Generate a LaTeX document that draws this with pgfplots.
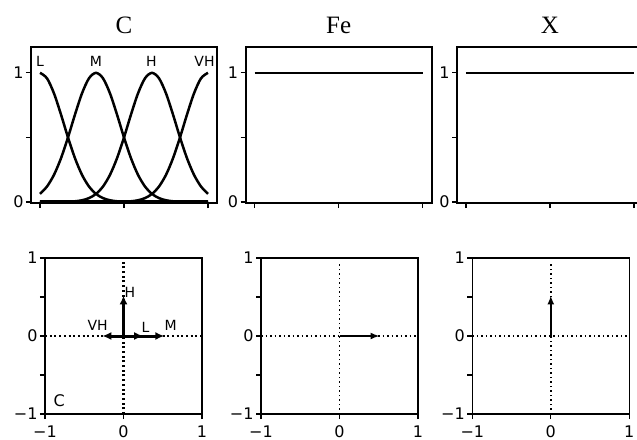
\documentclass[border=0pt]{standalone}
\usepackage{fontspec}
\setmainfont{DejaVu Sans}
\newfontfamily\titlefont{Liberation Serif}
\usepackage{pgfplots}
\usepackage{pgfplotstable}
\pgfplotsset{compat=1.18}
\usetikzlibrary{arrows.meta}

\pgfplotstableread{
x L M H VH
-1 1 0.0625 0 0
-0.9167 0.9576 0.1197 0 0
-0.8333 0.8409 0.2102 0.0002 0
-0.75 0.6771 0.3385 0.0007 0
-0.6667 0.5 0.5 0.0020 0
-0.5833 0.3385 0.6771 0.0053 0
-0.5 0.2102 0.8409 0.0131 0
-0.4167 0.1197 0.9576 0.0299 0
-0.3333 0.0625 1 0.0625 0
-0.25 0.0299 0.9576 0.1197 0
-0.1667 0.0131 0.8409 0.2102 0.0002
-0.0833 0.0053 0.6771 0.3385 0.0007
0 0.0020 0.5 0.5 0.0020
0.0833 0.0007 0.3385 0.6771 0.0053
0.1667 0.0002 0.2102 0.8409 0.0131
0.25 0 0.1197 0.9576 0.0299
0.3333 0 0.0625 1 0.0625
0.4167 0 0.0299 0.9576 0.1197
0.5 0 0.0131 0.8409 0.2102
0.5833 0 0.0053 0.6771 0.3385
0.6667 0 0.0020 0.5 0.5
0.75 0 0.0007 0.3385 0.6771
0.8333 0 0.0002 0.2102 0.8409
0.9167 0 0 0.1197 0.9576
1 0 0 0.0625 1
}\mf

\pgfplotsset{
  base/.style={scale only axis, anchor=north west, clip=false,
    axis line style={line width=1.6pt},
    tick style={line width=1.2pt, black},
    major tick length=5pt, tick align=outside,
    xtick pos=left, ytick pos=left,
    ticklabel style={font=\fontsize{16}{16}\selectfont},
    yticklabel style={xshift=1pt},
    title style={font=\titlefont\fontsize{25}{25}\selectfont, yshift=4pt}},
  top/.style={base, width=186pt, height=156pt,
    xmin=-1.107, xmax=1.107, ymin=-0.008, ymax=1.2,
    xtick={-1,0,1}, xticklabels={},
    ytick={0,0.5,1}, yticklabels={0,,1}},
  bot/.style={base, width=157pt, height=156pt,
    xmin=-1, xmax=1, ymin=-1, ymax=1,
    xtick={-1,0,1}, xticklabels={−1,0,1},
    xticklabel style={yshift=-3pt},
    ytick={-1,-0.5,0,0.5,1}, yticklabels={−1,,0,,1}},
  curve/.style={black, line width=2.5pt, smooth},
  thickdot/.style={black, line width=2pt, dash pattern=on 2pt off 2.7pt},
  thindot/.style={black, line width=1.5pt, dash pattern=on 1.5pt off 3pt},
  bigarrow/.style={black, line width=3pt, -{Latex[length=9pt,width=8pt]}},
  smallarrow/.style={black, line width=2pt, -{Latex[length=9pt,width=7pt]}},
}
\newcommand{\lab}{\fontsize{14}{14}\selectfont}

\begin{document}
\begin{tikzpicture}
\useasboundingbox (0pt,-439pt) rectangle (637pt,0pt);

% ---------- top row ----------
\begin{axis}[top, at={(31pt,-47pt)}, title={C}]
  \addplot[black, line width=4pt] coordinates {(-1,0) (1,0)};
  \addplot[curve] table[x=x,y=L] {\mf};
  \addplot[curve] table[x=x,y=M] {\mf};
  \addplot[curve] table[x=x,y=H] {\mf};
  \addplot[curve] table[x=x,y=VH] {\mf};
  \node[font=\lab] at (axis cs:-1,1.085) {L};
  \node[font=\lab] at (axis cs:-0.333,1.085) {M};
  \node[font=\lab] at (axis cs:0.327,1.085) {H};
  \node[font=\lab] at (axis cs:0.958,1.085) {VH};
\end{axis}

\begin{axis}[top, at={(245.7pt,-47pt)}, title={Fe}]
  \addplot[black, line width=2pt] coordinates {(-1,1) (1,1)};
\end{axis}

\begin{axis}[top, at={(457pt,-47pt)}, title={X}]
  \addplot[black, line width=2pt] coordinates {(-1,1) (1,1)};
\end{axis}

% ---------- bottom row ----------
\begin{axis}[bot, at={(45pt,-258pt)}]
  \addplot[thickdot] coordinates {(-1,0) (1,0)};
  \addplot[thickdot] coordinates {(0,-1) (0,0.95)};
  \addplot[bigarrow] coordinates {(0,0) (0,0.52)};
  \addplot[bigarrow] coordinates {(0,0) (0.52,0)};
  \addplot[bigarrow] coordinates {(0,0) (0.25,0)};
  \addplot[bigarrow] coordinates {(0,0) (-0.27,0)};
  \node[font=\lab] at (axis cs:0.08,0.56) {H};
  \node[font=\lab] at (axis cs:-0.33,0.14) {VH};
  \node[font=\lab] at (axis cs:0.28,0.11) {L};
  \node[font=\lab] at (axis cs:0.6,0.13) {M};
  \node[font=\fontsize{16}{16}\selectfont] at (axis cs:-0.82,-0.83) {C};
\end{axis}

\begin{axis}[bot, at={(261pt,-258pt)}]
  \addplot[thindot] coordinates {(-1,0) (1,0)};
  \addplot[thindot] coordinates {(0,-1) (0,0.95)};
  \addplot[smallarrow] coordinates {(0,0) (0.51,0)};
\end{axis}

\begin{axis}[bot, at={(472.3pt,-258pt)}]
  \addplot[thindot] coordinates {(-1,0) (1,0)};
  \addplot[thindot] coordinates {(0,-1) (0,0.95)};
  \addplot[smallarrow] coordinates {(0,0) (0,0.52)};
\end{axis}
\end{tikzpicture}
\end{document}
